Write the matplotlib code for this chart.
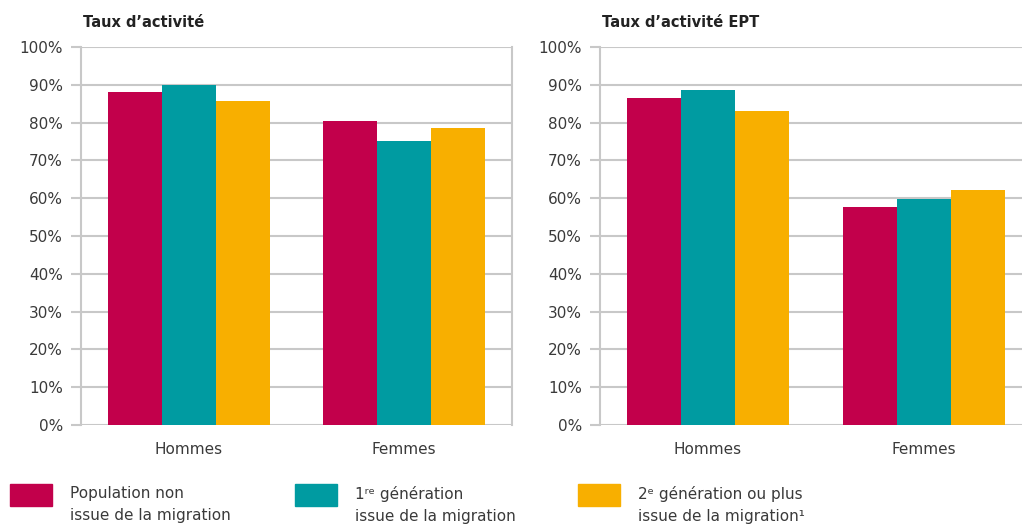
import numpy as np
import matplotlib
matplotlib.use("Agg")
import matplotlib.pyplot as plt
from matplotlib.patches import Rectangle

# data (percent)
categories = ["Hommes", "Femmes"]
series_names = ["Population non\nissue de la migration",
                "1\u02b3\u1d49 génération\nissue de la migration",
                "2\u1d49 génération ou plus\nissue de la migration\u00b9"]
taux_activite = [[88.0, 80.4], [90.0, 75.1], [85.7, 78.6]]
taux_activite_ept = [[86.4, 57.8], [88.7, 59.7], [83.1, 62.3]]
titles = ["Taux d\u2019activité", "Taux d\u2019activité EPT"]
yticks = list(range(0, 101, 10))

colors = ["#C2004B", "#009BA1", "#F8AF00"]
grid_col = "#C8C8C8"
text_col = "#3A3A3A"

plt.rcParams["font.family"] = ["DejaVu Sans"]

W, H = 1022, 526
fig = plt.figure(figsize=(W / 100, H / 100), dpi=100)
ax_left = fig.add_axes([0.0793, 0.192, 0.4217, 0.7186])
ax_right = fig.add_axes([0.5871, 0.192, 0.4227, 0.7186])

x = np.arange(len(categories))
w = 0.25

for ax, values, title in zip([ax_left, ax_right], [taux_activite, taux_activite_ept], titles):
    for i, (vals, col) in enumerate(zip(values, colors)):
        ax.bar(x + (i - 1) * w, vals, w, color=col, zorder=3)
    ax.set_xlim(-0.5, 1.5)
    ax.set_ylim(0, 100)
    ax.set_yticks(yticks)
    ax.set_yticklabels([f"{t}%" for t in yticks])
    ax.set_xticks(x)
    ax.set_xticklabels(categories)
    ax.grid(axis="y", color=grid_col, linewidth=1.5, zorder=0)
    ax.tick_params(axis="y", length=7, width=1.5, color=grid_col, pad=6,
                   labelsize=11, labelcolor=text_col)
    ax.tick_params(axis="x", length=0, pad=12, labelsize=11, labelcolor=text_col)
    for s in ["top", "bottom"]:
        ax.spines[s].set_visible(False)
    for s in ["left", "right"]:
        ax.spines[s].set_color(grid_col)
        ax.spines[s].set_linewidth(1.5)
    ax.text(0.005, 1.045, title, transform=ax.transAxes, fontsize=10.5,
            fontweight="bold", color="#222222", ha="left", va="bottom")

# legend drawn by hand so the swatches sit next to the first line of text
legend_x = [10, 295, 578]
for lx, name, col in zip(legend_x, series_names, colors):
    fig.add_artist(Rectangle((lx / W, 1 - 506 / H), 42 / W, 22 / H,
                             transform=fig.transFigure, color=col))
    fig.text((lx + 60) / W, 1 - 486 / H, name, fontsize=11, color=text_col,
             ha="left", va="top", linespacing=1.6)

fig.savefig("out.png", dpi=100)
